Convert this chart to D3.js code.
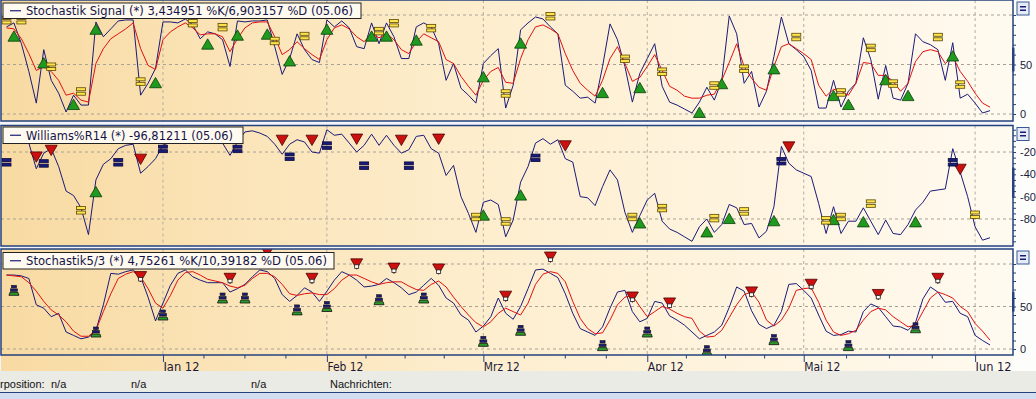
<!DOCTYPE html>
<html>
<head>
<meta charset="utf-8">
<script src="https://cdn.jsdelivr.net/npm/d3@7"></script>
<style>
  body { margin: 0; background: #f2f4f9; }
  svg { display: block; font-family: Tahoma, 'DejaVu Sans', sans-serif; }
</style>
</head>
<body>
<svg id="chart" width="1036" height="399"></svg>
<script>
// trading days on the chart (weekdays)
const firstDay = '2011-12-02';
const lastDay = '2012-06-05';
const monthStarts = ['2012-01-02', '2012-02-01', '2012-03-01', '2012-04-02', '2012-05-01', '2012-06-01'];
const monthLabels = ['Jan 12', 'Feb 12', 'Mrz 12', 'Apr 12', 'Mai 12', 'Jun 12'];

// Stochastik Signal %K / %D
const sigK = [
    88, 92, 71, 43, 11, 65, 34, 21, 2, 19,
    9, 9, 93, 78, 86, 94, 95, 95, 19, 31,
    46, 93, 93, 92, 96, 90, 76, 83, 81, 75,
    48, 94, 93, 94, 94, 95, 68, 40, 56, 81,
    65, 55, 52, 95, 88, 94, 87, 68, 66, 92,
    71, 92, 78, 56, 56, 88, 92, 88, 71, 34,
    51, 26, 19, 11, 51, 59, 66, 6, 29, 85,
    92, 98, 96, 88, 81, 29, 23, 16, 17, 11,
    48, 91, 75, 48, 12, 41, 56, 71, 28, 12,
    9, 5, 1, 12, 27, 14, 34, 99, 81, 31,
    43, 7, 23, 58, 98, 71, 65, 58, 44, 6,
    6, 34, 7, 23, 31, 77, 55, 15, 49, 16,
    14, 31, 81, 73, 70, 65, 34, 72, 16, 20,
    11, 1, 3.4
];
const sigD = [
    87, 86, 76, 61, 44, 48, 43, 34, 19, 21,
    14, 12, 51, 66, 76, 81, 86, 92, 66, 49,
    45, 75, 83, 88, 92, 87, 80, 81, 81, 78,
    63, 76, 87, 92, 93, 93, 78, 60, 65, 73,
    66, 60, 55, 75, 87, 90, 86, 78, 73, 81,
    77, 81, 75, 65, 61, 73, 81, 77, 73, 55,
    51, 38, 28, 19, 34, 43, 47, 32, 31, 56,
    75, 88, 90, 86, 81, 61, 44, 31, 24, 18,
    34, 56, 68, 51, 33, 37, 48, 60, 44, 28,
    24, 18, 16, 16, 19, 20, 34, 52, 71, 48,
    36, 27, 24, 48, 68, 71, 66, 61, 55, 29,
    18, 25, 23, 19, 31, 52, 51, 39, 39, 33,
    23, 31, 53, 63, 65, 63, 51, 58, 43, 33,
    21, 11, 6.9
];
// signal markers: [day index, value]
const sigBuy = [[1, 77], [5, 50], [9, 8], [12, 84], [20, 30], [27, 69], [31, 78], [35, 79], [38, 52], [43, 84],
    [49, 77], [51, 77], [55, 73], [64, 36], [69, 70], [80, 20], [85, 25], [93, 0], [96, 29], [103, 44],
    [111, 17], [113, 8], [118, 33], [121, 17], [127, 57]];
const sigFlat = [[0, 95], [2, 95], [6, 48], [10, 23], [18, 33], [25, 92], [29, 88], [36, 74], [40, 79], [50, 84],
    [52, 92], [57, 87], [67, 21], [73, 99], [83, 56], [88, 43], [95, 29], [99, 46], [106, 78], [112, 22],
    [116, 67], [119, 31], [125, 78], [128, 30]];

// Williams %R 14
const wr = [
    -8, -10, -8, -12, -35, -21, -17, -33, -55, -59,
    -70, -94, -45, -31, -26, -17, -14, -13, -39, -33,
    -26, -14, -11, -8, -5, -10, -6, -12, -8, -12,
    -23, -11, -2, -1, -3, -6, -13, -22, -13, -9,
    -11, -20, -21, 0, -5, -4, -12, -20, -14, -4,
    -14, -5, -14, -21, -18, -6, -5, -17, -21, -41,
    -32, -60, -75, -92, -65, -63, -67, -96, -81, -47,
    -33, -12, -8, -13, -9, -26, -29, -60, -61, -68,
    -51, -36, -45, -74, -92, -77, -63, -57, -82, -89,
    -92, -96, -100, -87, -80, -92, -85, -67, -70, -85,
    -84, -97, -91, -69, -15, -30, -36, -39, -42, -66,
    -93, -69, -93, -82, -82, -70, -82, -94, -81, -93,
    -94, -85, -72, -65, -55, -54, -53, -17, -38, -60,
    -87, -99, -96.8
];
const wrBuy = [[12, -57], [64, -78], [69, -60], [85, -85], [94, -93], [97, -81], [103, -83], [111, -82], [115, -84], [122, -84]];
const wrSell = [[4, -23], [6, -17], [18, -25], [37, -8], [41, -8], [47, -7], [53, -8], [58, -7], [75, -13], [105, -14], [128, -34]];
const wrExit = [[0, -29], [5, -30], [15, -29], [21, -17], [31, -17], [38, -24], [43, -14], [48, -32], [54, -32], [71, -25], [104, -28], [127, -29]];
const wrFlat = [[10, -72], [63, -78], [67, -82], [84, -78], [88, -70], [95, -79], [99, -73], [110, -81], [112, -78], [116, -66], [130, -76]];

// Stochastik 5/3 %K / %D
const stK = [
    87, 87, 86, 83, 52, 48, 38, 42, 20, 16,
    12, 14, 22, 52, 89, 88, 91, 93, 85, 61,
    33, 54, 75, 89, 93, 85, 81, 78, 78, 78,
    67, 71, 76, 85, 93, 91, 83, 64, 56, 63,
    72, 67, 56, 68, 81, 91, 87, 81, 73, 74,
    76, 83, 78, 72, 64, 67, 75, 83, 75, 60,
    54, 40, 34, 20, 27, 38, 60, 42, 35, 50,
    71, 93, 94, 89, 84, 65, 42, 24, 20, 16,
    26, 48, 67, 69, 44, 32, 36, 56, 54, 39,
    34, 28, 20, 12, 16, 20, 28, 49, 73, 68,
    45, 29, 24, 28, 44, 76, 77, 69, 60, 40,
    21, 16, 17, 21, 20, 44, 53, 49, 38, 27,
    26, 22, 31, 59, 73, 67, 55, 56, 42, 38,
    16, 10, 4.75
];
const stD = [
    87, 86, 85, 78, 68, 56, 46, 40, 32, 21,
    15, 15, 22, 44, 65, 83, 88, 91, 85, 71,
    54, 48, 63, 81, 90, 91, 87, 82, 80, 78,
    74, 72, 75, 83, 89, 89, 85, 76, 65, 63,
    65, 66, 64, 64, 71, 81, 87, 87, 83, 79,
    76, 78, 79, 79, 74, 70, 69, 76, 80, 73,
    61, 50, 40, 31, 26, 32, 42, 48, 44, 40,
    54, 76, 88, 91, 89, 79, 56, 36, 24, 18,
    19, 34, 52, 61, 63, 50, 38, 44, 50, 47,
    42, 38, 36, 21, 14, 15, 22, 37, 52, 64,
    67, 55, 34, 27, 34, 48, 69, 71, 72, 55,
    34, 20, 16, 18, 22, 34, 44, 48, 46, 38,
    32, 26, 28, 44, 60, 67, 64, 60, 50, 44,
    30, 21, 10.4
];
const stSell = [[18, 87], [30, 85], [35, 116], [41, 85], [47, 102], [52, 97], [58, 96], [67, 64], [73, 110], [84, 63],
    [89, 56], [100, 69], [108, 78], [117, 66], [125, 85]];
const stBuy = [[1, 69], [12, 20], [21, 40], [29, 60], [32, 60], [39, 46], [43, 50], [50, 58], [56, 60], [64, 9],
    [69, 22], [80, 4], [86, 20], [94, -2], [103, 11], [113, 4], [122, 25]];

const legends = [
    'Stochastik Signal (*) 3,434951 %K/6,903157 %D (05.06)',
    'Williams%R14 (*) -96,81211 (05.06)',
    'Stochastik5/3 (*) 4,75261 %K/10,39182 %D (05.06)'
];
const statusTexts = ['rposition:', 'n/a', 'n/a', 'n/a', 'Nachrichten:'];

// ---------------------------------------------------------------
const svg = d3.select('#chart');
const plotRight = 1013;
const navy = '#1a1a78';
const frame = '#24427e';
const smallFont = "'Liberation Sans', Arial, sans-serif";

const parse = d3.utcParse('%Y-%m-%d');
const fmt = d3.utcFormat('%Y-%m-%d');
const days = d3.utcDay.range(parse(firstDay), d3.utcDay.offset(parse(lastDay), 1))
    .filter(d => d.getUTCDay() % 6 !== 0)
    .map(fmt);

const x = d3.scalePoint().domain(days).range([6.5, 990]);

const defs = svg.append('defs');
const grad = defs.append('linearGradient').attr('id', 'bg')
    .attr('x1', 0).attr('x2', 1).attr('y1', 0).attr('y2', 0);
grad.append('stop').attr('offset', '0%').attr('stop-color', '#f8daa2');
grad.append('stop').attr('offset', '45%').attr('stop-color', '#fdedcc');
grad.append('stop').attr('offset', '100%').attr('stop-color', '#fffaf0');

// right label column
svg.append('rect').attr('x', plotRight).attr('y', 0).attr('width', 23).attr('height', 371).attr('fill', '#fdfdfb');

const panels = [
    {
        top: 0, bottom: 121,
        y: d3.scaleLinear().domain([0, 100]).range([114, 15]),
        grid: [0, 50, 100], ticks: d3.range(0, 101, 10), labels: [0, 50], bar: [43, 67],
        lines: [{values: sigK, color: navy}, {values: sigD, color: '#e01010'}],
        legend: legends[0], box: [3, 361, 3, 18.5], textLen: 327,
        up: sigBuy, flat: sigFlat
    },
    {
        top: 125.5, bottom: 246,
        y: d3.scaleLinear().domain([-100, 0]).range([241.3, 129.7]),
        grid: [-20, -80], ticks: d3.range(-100, 1, 5), labels: [-20, -40, -60, -80], bar: [-34, -61],
        lines: [{values: wr, color: navy}],
        legend: legends[1], box: [3, 243, 127, 143.5], textLen: 207,
        up: wrBuy, down: wrSell, exit: wrExit, flat: wrFlat
    },
    {
        top: 249, bottom: 355,
        y: d3.scaleLinear().domain([0, 100]).range([349, 264]),
        grid: [0, 50, 100], ticks: d3.range(0, 101, 10), labels: [0, 50], bar: [44, 67],
        lines: [{values: stK, color: navy}, {values: stD, color: '#e01010'}],
        legend: legends[2], box: [3, 334, 252.5, 269], textLen: 301,
        down: stSell, stack: stBuy, boxTip: true
    }
];

function eqMarker (g, data, p, fill, stroke) {
    const m = g.selectAll(null).data(data).join('g')
        .attr('transform', d => `translate(${x(days[d[0]])},${p.y(d[1])})`);
    m.append('rect').attr('x', -4.5).attr('y', -3.5).attr('width', 9).attr('height', 3)
        .attr('fill', fill).attr('stroke', stroke).attr('stroke-width', 0.8);
    m.append('rect').attr('x', -4.5).attr('y', 1).attr('width', 9).attr('height', 3)
        .attr('fill', fill).attr('stroke', stroke).attr('stroke-width', 0.8);
}

panels.forEach((p, k) => {
    const g = svg.append('g');
    const clipId = 'clip' + k;
    defs.append('clipPath').attr('id', clipId).append('rect')
        .attr('x', 1).attr('y', p.top).attr('width', plotRight - 1).attr('height', p.bottom - p.top);

    g.append('rect')
        .attr('x', 1).attr('y', p.top).attr('width', plotRight - 1).attr('height', p.bottom - p.top)
        .attr('fill', 'url(#bg)');

    // grid
    g.selectAll('.hgrid').data(p.grid).join('line')
        .attr('x1', 1).attr('x2', plotRight)
        .attr('y1', d => p.y(d)).attr('y2', d => p.y(d))
        .attr('stroke', '#a8a296').attr('stroke-dasharray', '3,3');
    g.selectAll('.vgrid').data(monthStarts).join('line')
        .attr('x1', d => x(d)).attr('x2', d => x(d))
        .attr('y1', p.top).attr('y2', p.bottom)
        .attr('stroke', '#b4aea2').attr('stroke-dasharray', '3,3');

    const inner = g.append('g').attr('clip-path', `url(#${clipId})`);

    p.lines.forEach(s => {
        inner.append('path')
            .datum(s.values)
            .attr('fill', 'none')
            .attr('stroke', s.color)
            .attr('stroke-width', 1)
            .attr('d', d3.line().x((d, i) => x(days[i])).y(d => p.y(d)));
    });

    // markers
    if (p.up) {
        inner.selectAll(null).data(p.up).join('path')
            .attr('transform', d => `translate(${x(days[d[0]])},${p.y(d[1])})`)
            .attr('d', d3.symbol(d3.symbolTriangle, 62))
            .attr('fill', '#1f9a1f').attr('stroke', '#0b3d0b').attr('stroke-width', 0.8);
    }
    if (p.down) {
        const dn = inner.selectAll(null).data(p.down).join('g')
            .attr('transform', d => `translate(${x(days[d[0]])},${p.y(d[1])})`);
        dn.append('path')
            .attr('transform', 'rotate(180)')
            .attr('d', d3.symbol(d3.symbolTriangle, 62))
            .attr('fill', '#cc1010').attr('stroke', '#4a0000').attr('stroke-width', 0.8);
        if (p.boxTip) {
            dn.append('rect').attr('x', -2).attr('y', 2.5).attr('width', 4).attr('height', 3.5)
                .attr('fill', '#fff').attr('stroke', '#222').attr('stroke-width', 0.8);
        }
    }
    if (p.flat) eqMarker(inner, p.flat, p, '#ffe34d', '#5a4800');
    if (p.exit) eqMarker(inner, p.exit, p, navy, '#0a0a40');
    if (p.stack) {
        const st = inner.selectAll(null).data(p.stack).join('g')
            .attr('transform', d => `translate(${x(days[d[0]])},${p.y(d[1])})`);
        st.append('path').attr('d', 'M-5,5 L5,5 L4,2 L-4,2 Z')
            .attr('fill', '#2a9a2a').attr('stroke', '#111').attr('stroke-width', 0.8);
        st.append('rect').attr('x', -3.5).attr('y', -1.5).attr('width', 7).attr('height', 2.5)
            .attr('fill', navy).attr('stroke', '#111').attr('stroke-width', 0.6);
        st.append('rect').attr('x', -2.5).attr('y', -5).attr('width', 5).attr('height', 2.5)
            .attr('fill', navy).attr('stroke', '#111').attr('stroke-width', 0.6);
    }

    // frame
    g.append('rect')
        .attr('x', 1).attr('y', p.top).attr('width', plotRight - 1).attr('height', p.bottom - p.top)
        .attr('fill', 'none').attr('stroke', frame).attr('stroke-width', 1.5);

    // right axis
    const axis = d3.axisRight(p.y)
        .tickValues(p.ticks)
        .tickSize(3)
        .tickPadding(4)
        .tickFormat(d => p.labels.includes(d) ? d : '');
    g.append('g')
        .attr('transform', `translate(${plotRight},0)`)
        .call(axis)
        .call(a => a.select('.domain').remove())
        .call(a => a.selectAll('line').attr('stroke', frame))
        .call(a => a.selectAll('text').attr('fill', '#1a1a3a').attr('font-size', '11px')
            .attr('font-family', smallFont));
    g.append('rect')
        .attr('x', plotRight - 1).attr('width', 2.5)
        .attr('y', p.y(d3.max(p.bar))).attr('height', Math.abs(p.y(p.bar[0]) - p.y(p.bar[1])))
        .attr('fill', frame);

    // small button top right
    const btn = g.append('g').attr('transform', `translate(1017,${p.top + 2})`);
    btn.append('rect').attr('width', 12).attr('height', 13)
        .attr('fill', '#e6ecf6').attr('stroke', '#3a5896');
    btn.append('rect').attr('x', 3).attr('y', 4).attr('width', 6).attr('height', 1.5).attr('fill', navy);
    btn.append('rect').attr('x', 3).attr('y', 7.5).attr('width', 6).attr('height', 1.5).attr('fill', navy);

    // legend box
    const [bx0, bx1, by0, by1] = p.box;
    g.append('rect')
        .attr('x', bx0).attr('y', by0).attr('width', bx1 - bx0).attr('height', by1 - by0)
        .attr('fill', '#fffaf0').attr('stroke', '#222').attr('stroke-width', 1);
    g.append('line')
        .attr('x1', 10).attr('x2', 21)
        .attr('y1', (by0 + by1) / 2).attr('y2', (by0 + by1) / 2)
        .attr('stroke', navy).attr('stroke-width', 1.2);
    g.append('text')
        .attr('x', 26).attr('y', by1 - 4)
        .attr('font-size', '12px')
        .attr('fill', '#14144a')
        .attr('textLength', p.textLen)
        .attr('lengthAdjust', 'spacingAndGlyphs')
        .text(p.legend);
});

// x axis area below the last panel
svg.insert('rect', 'g')
    .attr('x', 1).attr('y', 355).attr('width', plotRight - 1).attr('height', 16)
    .attr('fill', 'url(#bg)');

const xAxis = d3.axisBottom(x)
    .tickValues(monthStarts)
    .tickSize(7)
    .tickFormat((d, i) => monthLabels[i]);
svg.append('g')
    .attr('transform', 'translate(0,355)')
    .call(xAxis)
    .call(a => a.select('.domain').remove())
    .call(a => a.selectAll('line').attr('stroke', frame))
    .call(a => a.selectAll('text')
        .attr('text-anchor', 'start').attr('x', 0).attr('y', 16).attr('dy', 0)
        .attr('fill', '#1a1a3a').attr('font-size', '12px')
        .attr('textLength', 36).attr('lengthAdjust', 'spacingAndGlyphs')
        .attr('font-family', 'Tahoma, DejaVu Sans, sans-serif'));

// quarter-month minor ticks
const monthPos = d3.scaleLinear()
    .domain(d3.range(monthStarts.length))
    .range(monthStarts.map(d => x(d)));
const minor = d3.range(0, monthStarts.length - 1, 0.25).filter(v => v % 1 !== 0);
svg.append('g').selectAll('line').data(minor).join('line')
    .attr('x1', d => monthPos(d)).attr('x2', d => monthPos(d))
    .attr('y1', 355).attr('y2', 358.5)
    .attr('stroke', frame);

// status bar
svg.append('rect').attr('x', 0).attr('y', 371).attr('width', 1036).attr('height', 21.5).attr('fill', '#ebebe6');
svg.append('line').attr('x1', 0).attr('x2', 1036).attr('y1', 392.5).attr('y2', 392.5).attr('stroke', frame);
svg.append('rect').attr('x', 0).attr('y', 393).attr('width', 1036).attr('height', 6).attr('fill', '#d3dff0');
const statusX = [0, 51, 131, 251, 330];
svg.append('g').selectAll('text').data(statusTexts).join('text')
    .attr('x', (d, i) => statusX[i]).attr('y', 388)
    .attr('font-size', '11px').attr('fill', '#111')
    .attr('font-family', smallFont)
    .text(d => d);
</script>
</body>
</html>
